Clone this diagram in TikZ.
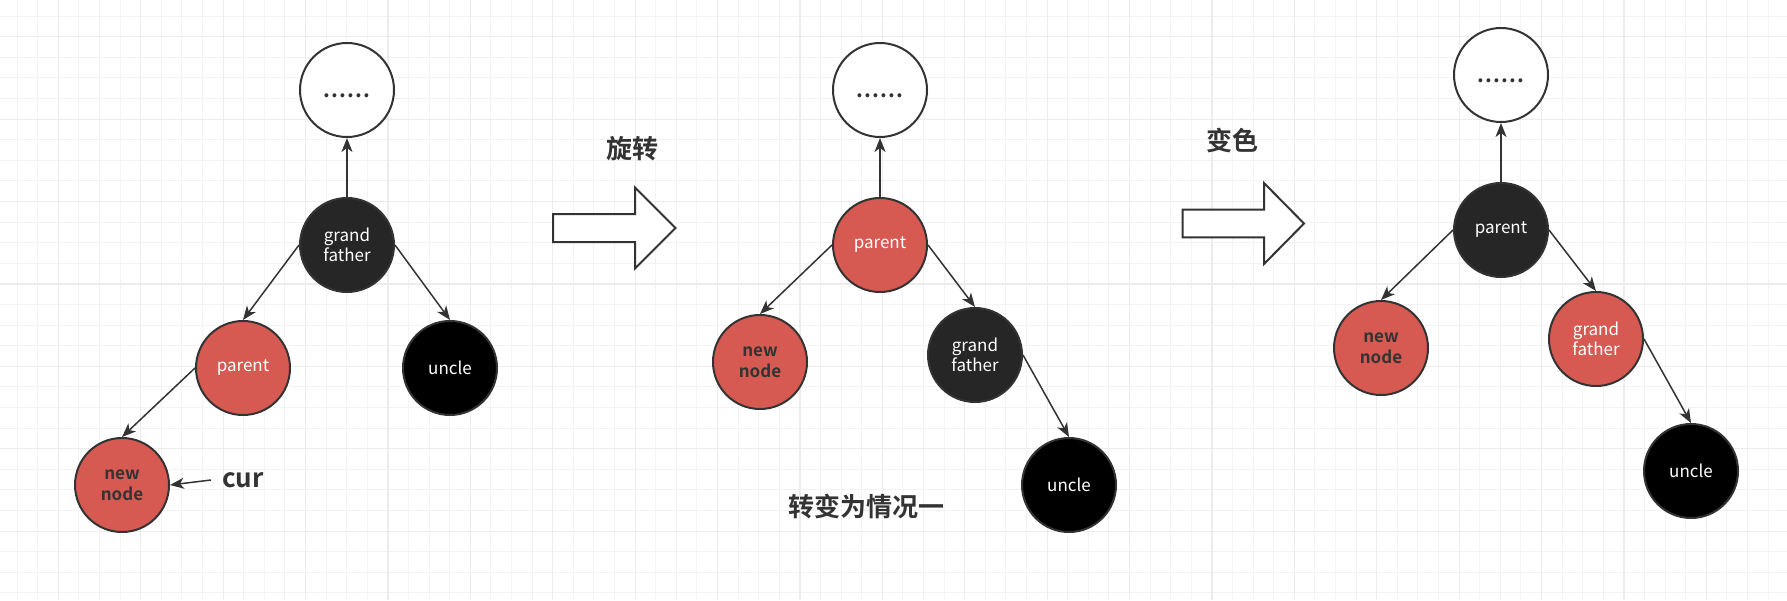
\documentclass[tikz,border=0pt]{standalone}
\usepackage{fontspec}
\setmainfont{Noto Sans CJK SC}[BoldFont={Noto Sans CJK SC Bold}]
\usetikzlibrary{arrows.meta}
\definecolor{nodered}{RGB}{215, 90, 82}
\definecolor{nodedark}{RGB}{38, 38, 38}
\definecolor{linegray}{RGB}{51, 51, 51}
\definecolor{gridminor}{RGB}{243, 243, 243}
\definecolor{gridmajor}{RGB}{236, 236, 236}
\newcommand{\dotrow}{{\fontsize{21}{21}\selectfont\bfseries\addfontfeatures{LetterSpace=5}......}}

\begin{document}
\begin{tikzpicture}[
    x=1pt, y=-1pt,
    rb/.style={circle, draw=linegray, line width=2pt, minimum size=94pt, inner sep=0pt, align=center, font=\fontsize{17}{20.5}\selectfont},
    nilnode/.style={rb, fill=white, text=linegray, text height=15pt, text depth=0pt},
    rednode/.style={rb, fill=nodered, text=white},
    newnode/.style={rb, fill=nodered, text=linegray, font=\fontsize{17}{20.5}\selectfont\bfseries},
    blacknode/.style={rb, fill=nodedark, text=white},
    unclenode/.style={rb, fill=black, text=white},
    arrow/.style={-{Stealth[length=14pt, width=11pt, inset=4pt]}, draw=linegray, line width=1.5pt},
    caption/.style={font=\fontsize{26}{30}\selectfont\bfseries, text=linegray},
    bigarrow/.style={draw=linegray, line width=2pt, fill=white, line join=miter}
]
    \useasboundingbox (0,0) rectangle (1787,600);
    \fill[white] (0,0) rectangle (1787,600);
    % grid
    \foreach \i in {0,...,86} \draw[gridminor, line width=1pt] ({17.1+20.6*\i},0) -- ++(0,600);
    \foreach \i in {0,...,28} \draw[gridminor, line width=1pt] (0,{16.1+20.6*\i}) -- ++(1787,0);
    \foreach \i in {0,...,21} \draw[gridmajor, line width=1.2pt] ({58.3+82.4*\i},0) -- ++(0,600);
    \foreach \i in {0,...,6} \draw[gridmajor, line width=1.2pt] (0,{36.7+82.4*\i}) -- ++(1787,0);

    % before
    \node[nilnode] (top1) at (347,90) {\dotrow};
    \node[blacknode] (gf1) at ([shift={(0,155)}]top1) {grand\\father};
    \node[rednode] (p1) at ([shift={(-104,123)}]gf1) {parent};
    \node[unclenode] (u1) at ([shift={(103,123)}]gf1) {uncle};
    \node[newnode] (n1) at ([shift={(-121,117)}]p1) {new\\node};
    \node[caption, inner xsep=11pt, inner ysep=0pt] (cur) at (243,480) {cur};

    \draw[arrow] (gf1) -- (top1);
    \draw[arrow] (gf1.west) -- (p1.north);
    \draw[arrow] (gf1.east) -- (u1.north);
    \draw[arrow] (p1.west) -- (n1.north);
    \draw[arrow] (cur.west) -- (n1.east);

    % rotate
    \node[caption] (rot) at (632,149) {旋转};
    \draw[bigarrow] (553,214) -- (635,214) -- (635,187.5) -- (675.5,228) -- (635,268.5) -- (635,242) -- (553,242) -- cycle;

    \node[nilnode] (top2) at (880,90) {\dotrow};
    \node[rednode] (p2) at ([shift={(0,155)}]top2) {parent};
    \node[newnode] (n2) at ([shift={(-120,117)}]p2) {new\\node};
    \node[blacknode] (gf2) at ([shift={(95,110)}]p2) {grand\\father};
    \node[unclenode] (u2) at ([shift={(94,130)}]gf2) {uncle};
    \node[caption] (case) at (866,507) {转变为情况一};

    \draw[arrow] (p2) -- (top2);
    \draw[arrow] (p2.west) -- (n2.north);
    \draw[arrow] (p2.east) -- (gf2.north);
    \draw[arrow] (gf2.east) -- (u2.north);

    % recolor
    \node[caption] (recolor) at (1232,140) {变色};
    \draw[bigarrow] (1182.5,209.7) -- (1264,209.7) -- (1264,183) -- (1304,223.5) -- (1264,264) -- (1264,237.3) -- (1182.5,237.3) -- cycle;

    \node[nilnode] (top3) at (1501,75) {\dotrow};
    \node[blacknode] (p3) at ([shift={(0,155)}]top3) {parent};
    \node[newnode] (n3) at ([shift={(-120,118)}]p3) {new\\node};
    \node[rednode] (gf3) at ([shift={(95,109)}]p3) {grand\\father};
    \node[unclenode] (u3) at ([shift={(95,132)}]gf3) {uncle};

    \draw[arrow] (p3) -- (top3);
    \draw[arrow] (p3.west) -- (n3.north);
    \draw[arrow] (p3.east) -- (gf3.north);
    \draw[arrow] (gf3.east) -- (u3.north);
\end{tikzpicture}
\end{document}
